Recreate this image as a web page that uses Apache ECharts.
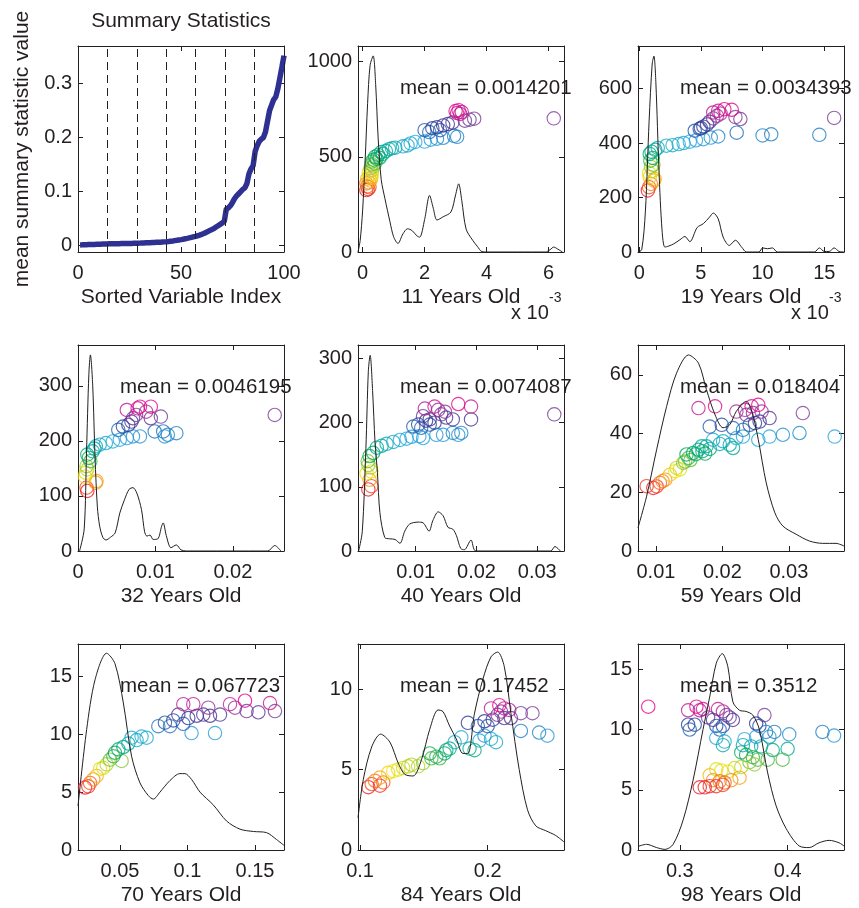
<!DOCTYPE html>
<html><head><meta charset="utf-8">
<script src="https://cdn.jsdelivr.net/npm/echarts@6/dist/echarts.min.js"></script>
<style>html,body{margin:0;padding:0;background:#fff}#c{width:859px;height:908px}</style>
</head><body><div id="c"></div>
<script>
// ---------------- data ----------------
const summaryValues = [0.00142,0.0016,0.0018,0.0019,0.0021,0.0022,0.0023,0.0024,0.0026,0.0027,
0.0028,0.0030,0.0031,0.0033,0.00344,0.0035,0.0036,0.0037,0.0038,0.0038,
0.0039,0.0040,0.0041,0.0042,0.0042,0.0043,0.0044,0.0045,0.00462,0.0048,
0.0050,0.0051,0.0053,0.0055,0.0056,0.0058,0.0060,0.0062,0.0064,0.0066,
0.0069,0.0071,0.00741,0.0078,0.0083,0.0088,0.0094,0.0100,0.0107,0.0113,
0.0120,0.0128,0.0136,0.0145,0.0155,0.0165,0.0174,0.0184,0.0196,0.0210,
0.0225,0.0242,0.0262,0.0283,0.0300,0.0318,0.0345,0.0370,0.0395,0.0420,
0.0450,0.0677,0.0700,0.0740,0.0800,0.0870,0.0920,0.0960,0.1000,0.1040,
0.1070,0.1150,0.1330,0.1420,0.1480,0.1745,0.1850,0.1930,0.1970,0.2000,
0.2100,0.2300,0.2500,0.2600,0.2700,0.2750,0.2900,0.3100,0.3300,0.3512];
const dividerIndex = [0,14.3,28.6,42.9,57.1,71.4,85.7,100];
const ageLabels = ['11 Years Old','19 Years Old','32 Years Old','40 Years Old','59 Years Old','70 Years Old','84 Years Old','98 Years Old'];
const meanValues = [0.0014201,0.0034393,0.0046195,0.0074087,0.018404,0.067723,0.17452,0.3512];

// x values of the 11 and 19 year panels are in units of 10^-3
const density11 = [[-0.15,0],[-0.08,60],[0,220],[0.08,480],[0.16,780],[0.24,980],[0.34,1030],[0.42,880],[0.5,600],[0.6,380],[0.72,280],[0.88,160],[1.0,80],[1.14,45],[1.3,95],[1.45,122],[1.6,112],[1.75,85],[1.84,78],[2.0,170],[2.16,297],[2.28,230],[2.4,168],[2.6,185],[2.85,210],[3.0,300],[3.1,358],[3.2,270],[3.34,120],[3.55,62],[3.7,30],[3.85,2],[4.0,0],[5.0,0],[5.9,0],[6.05,12],[6.17,26],[6.3,15],[6.45,0]];
const scatter11 = [[0.12,325],[0.18,330],[0.15,345],[0.22,340],[0.12,360],[0.2,365],[0.25,375],[0.15,385],[0.28,390],[0.22,400],[0.3,410],[0.2,420],[0.3,430],[0.25,440],[0.35,450],[0.3,460],[0.4,465],[0.3,475],[0.35,485],[0.45,490],[0.4,500],[0.55,495],[0.5,510],[0.65,515],[0.6,525],[0.75,530],[0.85,540],[0.95,545],[1.05,548],[1.3,555],[1.45,560],[1.55,570],[1.7,578],[2.0,580],[2.2,590],[2.4,595],[2.6,600],[2.95,610],[3.05,605],[2.0,640],[2.15,630],[2.25,650],[2.4,655],[2.5,640],[2.6,665],[2.75,672],[2.9,680],[3.3,690],[3.45,695],[3.6,700],[3.0,740],[3.05,730],[3.1,745],[3.15,725],[3.2,735],[6.17,702]];

const density19 = [[-0.1,0],[0.2,8],[0.5,150],[0.8,480],[1.05,690],[1.19,719],[1.35,620],[1.6,300],[1.85,80],[2.08,18],[2.4,22],[2.8,30],[3.3,45],[3.7,57],[4.1,38],[4.7,90],[5.2,104],[5.7,128],[6.0,143],[6.4,122],[6.8,55],[7.3,24],[7.8,43],[8.3,18],[8.7,0],[9.7,0],[10.0,15],[10.4,12],[10.8,15],[11.2,0],[14.2,0],[14.6,15],[15.0,2],[15.4,2],[15.8,15],[16.2,2],[16.6,0]];
const scatter19 = [[0.7,226],[0.8,238],[0.95,250],[1.2,262],[0.85,275],[1.25,268],[0.8,290],[1.1,298],[0.95,312],[1.15,320],[0.9,335],[1.1,345],[0.85,360],[1.0,368],[1.3,375],[1.5,382],[2.2,390],[2.7,392],[3.2,396],[3.6,400],[4.1,405],[4.6,410],[5.2,414],[5.8,420],[6.4,424],[7.9,438],[10.0,428],[10.7,432],[14.6,430],[4.5,445],[4.9,452],[5.2,460],[5.5,468],[5.0,455],[5.7,478],[6.0,490],[6.3,500],[8.2,488],[7.8,495],[6.0,512],[6.4,518],[6.9,524],[7.5,522],[6.6,508],[15.8,492]];

const density32 = [[0.0002,0],[0.0008,40],[0.0011,180],[0.0014,320],[0.0016,356],[0.0019,300],[0.0022,170],[0.0025,80],[0.0028,45],[0.0032,25],[0.0036,20],[0.0042,25],[0.0048,33],[0.0054,69],[0.006,93],[0.0066,112],[0.0071,115],[0.0076,105],[0.0082,75],[0.0086,35],[0.0089,27],[0.0093,29],[0.0097,21],[0.0103,22],[0.0108,45],[0.011,51],[0.0114,28],[0.012,6],[0.0127,11],[0.0133,2],[0.014,0],[0.0245,0],[0.0254,10],[0.0262,0]];
const scatter32 = [[0.0011,115],[0.0012,109],[0.0023,124],[0.0024,127],[0.0009,135],[0.001,142],[0.0012,148],[0.0011,154],[0.0016,163],[0.0014,169],[0.0012,175],[0.0019,181],[0.0021,186],[0.0023,190],[0.0028,193],[0.0036,196],[0.0045,199],[0.0054,202],[0.0063,205],[0.0071,208],[0.008,208],[0.0099,217],[0.011,217],[0.0116,211],[0.0127,214],[0.0112,208],[0.0052,220],[0.0058,226],[0.0065,229],[0.0069,235],[0.0071,241],[0.0075,247],[0.0094,241],[0.0107,244],[0.0063,256],[0.0077,259],[0.008,262],[0.0094,262],[0.0088,253],[0.0254,247]];

const density40 = [[0.0006,0],[0.0012,30],[0.0018,160],[0.0022,280],[0.0025,305],[0.0029,250],[0.0033,170],[0.0037,122],[0.0041,60],[0.0049,21],[0.0057,19],[0.0066,18],[0.0074,12],[0.0082,31],[0.009,42],[0.0104,45],[0.0112,44],[0.0122,31],[0.0128,47],[0.0137,61],[0.0145,55],[0.0153,37],[0.0161,34],[0.0167,24],[0.0174,4],[0.018,2],[0.0191,17],[0.0199,0],[0.0322,0],[0.0329,7],[0.0338,0]];
const scatter40 = [[0.0022,96],[0.0027,101],[0.0024,111],[0.0019,121],[0.0027,124],[0.0026,130],[0.0022,134],[0.0021,140],[0.0024,148],[0.003,153],[0.0036,161],[0.0044,164],[0.0052,167],[0.0063,170],[0.0074,173],[0.0085,175],[0.0093,178],[0.0106,179],[0.0112,176],[0.0134,181],[0.0145,181],[0.0161,184],[0.017,181],[0.0175,184],[0.0096,194],[0.0104,197],[0.0109,192],[0.0117,203],[0.0123,197],[0.0131,200],[0.0112,210],[0.0123,205],[0.0142,213],[0.015,208],[0.0161,205],[0.0191,205],[0.0115,222],[0.0131,225],[0.0137,220],[0.0148,217],[0.017,229],[0.0191,225],[0.0328,213]];

const density59 = [[0.0073,7.9],[0.0086,18.7],[0.0101,34.5],[0.0116,49.2],[0.0131,60.6],[0.0149,66.8],[0.0164,64],[0.0176,55],[0.0189,46.4],[0.0201,42],[0.0211,43],[0.0221,47.6],[0.0236,51],[0.0245,47],[0.0254,38],[0.0266,23.2],[0.0279,13],[0.0291,8.5],[0.0311,5.7],[0.0331,3.4],[0.0351,2.6],[0.0371,2.6],[0.0383,1.7]];
const scatter59 = [[0.0086,22.1],[0.0096,21.5],[0.0101,22],[0.0106,23.2],[0.0114,24.3],[0.011,23.8],[0.0121,26],[0.0129,27.2],[0.0136,27.8],[0.0131,28.3],[0.0141,30],[0.0144,30.5],[0.0152,31],[0.0149,31.7],[0.0146,32.9],[0.016,33],[0.0156,33.4],[0.017,34],[0.0164,34.5],[0.0169,35.7],[0.0176,35.7],[0.0174,33.2],[0.0181,34.8],[0.0186,37.9],[0.0196,36.5],[0.0201,37.4],[0.0211,36.2],[0.0216,35.1],[0.0221,38.5],[0.0231,39],[0.0254,37.9],[0.0271,39],[0.0291,39.6],[0.0316,40.2],[0.0369,39],[0.0181,42.4],[0.0199,43],[0.0216,41.9],[0.0231,41.3],[0.0241,43],[0.0249,43.6],[0.0256,44.1],[0.0236,46.4],[0.0246,47],[0.0259,47.5],[0.0271,45.3],[0.0321,47],[0.0164,48.7],[0.0189,49.3],[0.0221,47.5],[0.0234,48.1],[0.0244,49.3],[0.0254,49.8]];

const density70 = [[0.0189,3.8],[0.0253,10.4],[0.0315,14.7],[0.0401,17.0],[0.0463,16.1],[0.0525,12.7],[0.0586,8.1],[0.0648,5.8],[0.071,4.7],[0.0747,4.4],[0.0796,5.0],[0.087,6.0],[0.0944,6.6],[0.0981,6.6],[0.103,6.1],[0.1093,5.0],[0.1191,3.9],[0.129,2.5],[0.1389,1.8],[0.1488,1.6],[0.1586,1.5],[0.166,0.9],[0.1715,0.4]];
const scatter70 = [[0.0241,5.4],[0.0265,5.5],[0.0278,5.8],[0.0302,6.1],[0.0327,6.4],[0.0352,7.0],[0.0376,7.1],[0.0401,7.4],[0.0426,7.8],[0.0451,8.1],[0.0463,8.4],[0.0512,7.7],[0.0488,8.7],[0.0525,8.9],[0.0562,9.2],[0.0586,9.7],[0.0623,9.5],[0.066,9.8],[0.0697,9.7],[0.103,10.1],[0.1204,10.1],[0.0784,10.7],[0.0833,11.0],[0.087,10.7],[0.0895,11.2],[0.0969,10.9],[0.0932,11.7],[0.1006,11.4],[0.1068,11.6],[0.1117,11.7],[0.1167,11.6],[0.1241,11.7],[0.1352,12.3],[0.1438,12.0],[0.1525,11.9],[0.1648,12.0],[0.0969,12.6],[0.1043,12.6],[0.1154,12.3],[0.1315,12.6],[0.1426,12.9],[0.1611,12.7]];

const density84 = [[0.0984,2.0],[0.1026,4.4],[0.1091,6.4],[0.1161,7.2],[0.1234,6.7],[0.1299,5.4],[0.1351,4.7],[0.1416,4.6],[0.1481,5.6],[0.1546,7.5],[0.1611,8.7],[0.165,8.6],[0.1702,7.7],[0.1754,6.9],[0.1806,6.0],[0.1845,6.0],[0.1897,8.5],[0.1962,10.6],[0.2026,12.0],[0.2078,12.3],[0.213,11.4],[0.2182,8.5],[0.2247,5.0],[0.2312,2.5],[0.2377,1.5],[0.2455,1.2],[0.2533,0.9],[0.2598,0.5]];
const scatter84 = [[0.1065,3.9],[0.1091,4.1],[0.1117,4.3],[0.1156,4.0],[0.1182,4.2],[0.1156,4.5],[0.1221,4.8],[0.126,4.9],[0.1299,5.0],[0.1338,5.1],[0.1377,5.2],[0.1403,5.3],[0.1455,5.2],[0.1494,5.4],[0.1546,6.0],[0.1559,5.7],[0.1598,5.8],[0.1624,5.7],[0.1663,6.0],[0.1676,6.2],[0.1702,6.3],[0.1741,6.7],[0.1793,7.0],[0.1858,6.3],[0.1897,6.2],[0.1936,6.8],[0.1975,7.1],[0.2026,6.9],[0.2065,6.7],[0.226,7.4],[0.2403,7.3],[0.2468,7.1],[0.1845,7.9],[0.1923,7.7],[0.1975,8.0],[0.2,7.7],[0.204,8.1],[0.2078,8.4],[0.213,8.2],[0.2182,8.2],[0.226,8.5],[0.2351,8.5],[0.2026,8.8],[0.2091,9.0],[0.213,8.8],[0.2169,8.7],[0.2104,8.6]];

const density98 = [[0.2612,0.3],[0.2692,0.47],[0.2785,0.2],[0.2862,0.05],[0.2938,0.47],[0.3031,2.5],[0.3123,5.8],[0.3215,10.0],[0.3277,12.7],[0.3338,15.5],[0.3394,16.3],[0.3446,15.2],[0.3492,12.3],[0.3554,11.6],[0.3615,11.5],[0.3677,11.2],[0.3738,10.0],[0.3815,6.4],[0.3892,3.7],[0.3985,1.8],[0.4108,0.33],[0.42,0.2],[0.4292,0.6],[0.4385,0.8],[0.4477,0.6],[0.4523,0.33]];
const scatter98 = [[0.2707,11.9],[0.3077,11.6],[0.3154,11.9],[0.3185,11.6],[0.3215,11.7],[0.3354,11.7],[0.34,11.5],[0.3431,11.2],[0.3262,11.0],[0.3308,10.8],[0.3462,11.0],[0.3492,10.8],[0.3785,11.2],[0.3708,10.5],[0.3077,10.4],[0.3092,10.0],[0.3138,10.4],[0.3338,10.3],[0.3369,10.0],[0.34,10.3],[0.3738,10.3],[0.3338,9.3],[0.3415,9.0],[0.34,8.7],[0.36,9.2],[0.3708,9.4],[0.38,9.8],[0.3831,9.4],[0.3877,9.8],[0.4015,9.6],[0.4323,9.8],[0.4431,9.5],[0.3585,8.7],[0.3662,8.6],[0.3754,8.6],[0.3862,8.3],[0.4,8.4],[0.357,8.1],[0.3615,7.9],[0.3677,7.7],[0.3723,7.5],[0.3815,7.5],[0.3954,7.5],[0.3646,7.3],[0.3692,7.1],[0.3277,6.2],[0.3338,6.7],[0.3385,6.6],[0.3446,6.5],[0.3508,6.8],[0.357,6.9],[0.3308,5.8],[0.3369,5.7],[0.3415,5.6],[0.3477,5.8],[0.3554,6.0],[0.3185,5.2],[0.3231,5.2],[0.3277,5.3],[0.3338,5.3],[0.34,5.4]];

// axis limits and tick labels
const summaryXRange = [0,100], summaryYRange = [-0.0116,0.369];
const summaryXTicks = [0,50,100], summaryYTicks = [0,0.1,0.2,0.3];
const ageXRanges = [[-0.15,6.5],[-0.1,16.6],[0,0.0266],[0.0005,0.0344],[0.0073,0.0383],[0.0189,0.1715],[0.0984,0.2598],[0.2612,0.4523]];
const ageYRanges = [[0,1082],[0,756],[0,374],[0,321],[0,70.2],[0,17.8],[0,12.8],[0,17.1]];
const ageXTicks = [[0,2,4,6],[0,5,10,15],[0,0.01,0.02],[0.01,0.02,0.03],[0.01,0.02,0.03],[0.05,0.1,0.15],[0.1,0.2],[0.3,0.4]];
const ageYTicks = [[0,500,1000],[0,200,400,600],[0,100,200,300],[0,100,200,300],[0,20,40,60],[0,5,10,15],[0,5,10],[0,5,10,15]];
const densities = [density11,density19,density32,density40,density59,density70,density84,density98];
const scatters = [scatter11,scatter19,scatter32,scatter40,scatter59,scatter70,scatter84,scatter98];

// ---------------- layout / style ----------------
const FONT = '"Liberation Sans", Arial, Helvetica, sans-serif';
const FS = 20, FS_NAME = 21, FS_MEAN = 20.5;
const INK = '#231f20';
const COLS = [78,358,638], ROWS = [46,345,644], SIZE = 206;
const RAINBOW = ['#ed1c24','#f7941d','#f2e500','#8dc63f','#00a651','#00a99d','#27aae1','#1c75bc','#2e3192','#7f3f98','#ec008c'];
const RING = 'path://M0,-7A7,7,0,1,1,0,7A7,7,0,1,1,0,-7ZM0,-5.9A5.9,5.9,0,1,0,0,5.9A5.9,5.9,0,1,0,0,-5.9Z';

const grids=[], xAxes=[], yAxes=[], series=[], visualMaps=[], graphics=[];

function addPanel(gi, xr, yr, xt, yt, xName, yName) {
  const col = gi % 3, row = Math.floor(gi / 3);
  grids.push({left: COLS[col], top: ROWS[row], width: SIZE, height: SIZE, containLabel:false});
  const line = {show:true, onZero:false, lineStyle:{color:INK, width:1}};
  const tick = v => ({show:true, inside:true, length:5, customValues:v, lineStyle:{color:INK, width:1}});
  const lab = (v, m) => ({show:true, customValues:v, formatter: x => String(x), color:INK, fontSize:FS, fontFamily:FONT, margin:m});
  const nts = {color:INK, fontSize:FS_NAME, fontFamily:FONT};
  xAxes.push({type:'value', gridIndex:gi, position:'bottom', min:xr[0], max:xr[1], axisLine:line, axisTick:tick(xt), axisLabel:lab(xt,11), splitLine:{show:false}, name:xName, nameLocation:'middle', nameGap:35, nameTextStyle:nts});
  xAxes.push({type:'value', gridIndex:gi, position:'top', min:xr[0], max:xr[1], axisLine:line, axisTick:tick(xt), axisLabel:{show:false}, splitLine:{show:false}});
  const ya = {type:'value', gridIndex:gi, position:'left', min:yr[0], max:yr[1], axisLine:line, axisTick:tick(yt), axisLabel:lab(yt,6), splitLine:{show:false}};
  if (yName) Object.assign(ya, {name:yName, nameLocation:'middle', nameGap:45, nameTextStyle:nts});
  yAxes.push(ya);
  yAxes.push({type:'value', gridIndex:gi, position:'right', min:yr[0], max:yr[1], axisLine:line, axisTick:tick(yt), axisLabel:{show:false}, splitLine:{show:false}});
  return {xAxisIndex: 2*gi, yAxisIndex: 2*gi};
}

// summary panel
const ax0 = addPanel(0, summaryXRange, summaryYRange, summaryXTicks, summaryYTicks, 'Sorted Variable Index', 'mean summary statistic value');
series.push(Object.assign({type:'line', data: summaryValues.map((v,i)=>[i+1,v]), showSymbol:false, lineStyle:{color:'#2e3192', width:5.5}, itemStyle:{color:'#2e3192'},
  markLine:{silent:true, symbol:['none','none'], label:{show:false}, lineStyle:{color:INK, type:[8,5], width:1}, emphasis:{disabled:true}, data: dividerIndex.map(v=>({xAxis:v}))}}, ax0));
graphics.push({type:'text', x:181, y:21, style:{text:'Summary Statistics', fontSize:FS_NAME, fontFamily:FONT, fill:INK, align:'center', verticalAlign:'middle'}});

// age panels
ageLabels.forEach((name, i) => {
  const gi = i + 1;
  const ax = addPanel(gi, ageXRanges[i], ageYRanges[i], ageXTicks[i], ageYTicks[i], name, null);
  series.push(Object.assign({type:'line', data: densities[i], showSymbol:false, smooth:0.3, lineStyle:{color:INK, width:1}, itemStyle:{color:INK}}, ax));
  series.push(Object.assign({type:'scatter', data: scatters[i], symbol: RING, symbolSize: 14.5}, ax));
  const ys = scatters[i].map(p => p[1]);
  visualMaps.push({type:'continuous', show:false, seriesIndex: series.length-1, dimension:1, min: Math.min(...ys), max: Math.max(...ys), inRange:{color: RAINBOW}});
  const col = gi % 3, row = Math.floor(gi / 3);
  graphics.push({type:'text', x: COLS[col]+42, y: ROWS[row]+42, style:{text:'mean = ' + String(meanValues[i]), fontSize:FS_MEAN, fontFamily:FONT, fill:INK, align:'left', verticalAlign:'middle'}});
  if (i < 2) {
    graphics.push({type:'text', x: COLS[col]+153, y: ROWS[row]+267, style:{text:'x 10', fontSize:FS, fontFamily:FONT, fill:INK, align:'left', verticalAlign:'middle'}});
    graphics.push({type:'text', x: COLS[col]+191, y: ROWS[row]+252, style:{text:'-3', fontSize:14, fontFamily:FONT, fill:INK, align:'left', verticalAlign:'middle'}});
  }
});

const chart = echarts.init(document.getElementById('c'), null, {renderer:'canvas', width:859, height:908});
chart.setOption({
  animation:false,
  backgroundColor:'#ffffff',
  grid: grids, xAxis: xAxes, yAxis: yAxes, series: series, visualMap: visualMaps, graphic: graphics
});
</script>
</body></html>
